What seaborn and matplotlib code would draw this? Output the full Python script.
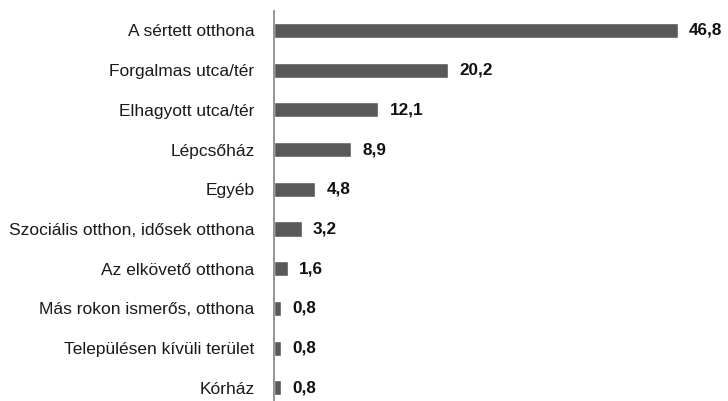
import matplotlib
matplotlib.use("Agg")
import matplotlib.pyplot as plt
import seaborn as sns
import pandas as pd

# data
places = [
    "A sértett otthona",
    "Forgalmas utca/tér",
    "Elhagyott utca/tér",
    "Lépcsőház",
    "Egyéb",
    "Szociális otthon, idősek otthona",
    "Az elkövető otthona",
    "Más rokon ismerős, otthona",
    "Településen kívüli terület",
    "Kórház",
]
shares = [46.8, 20.2, 12.1, 8.9, 4.8, 3.2, 1.6, 0.8, 0.8, 0.8]

df = pd.DataFrame({"place": places, "share": shares})

sns.set_style("white")
plt.rcParams["font.family"] = ["Liberation Sans Narrow", "Liberation Sans", "DejaVu Sans"]

fig = plt.figure(figsize=(7.28, 4.01), dpi=100)
ax = fig.add_axes([274 / 728, -0.0165, (50 * 8.63) / 728, 397 / 401])

sns.barplot(data=df, x="share", y="place", orient="h", color="#595959",
            width=0.38, saturation=1, ax=ax)

ax.set_xlim(0, 50)
ax.set_ylim(9.5, -0.5)

for i, v in enumerate(shares):
    ax.text(v + 1.3, i, f"{v:.1f}".replace(".", ","), va="center", ha="left",
            fontsize=12.3, fontweight="bold", color="#111111")

ax.set_xlabel("")
ax.set_ylabel("")
ax.set_xticks([])
ax.tick_params(axis="y", length=0, pad=14, labelsize=12.5, labelcolor="#1a1a1a")

for side in ["top", "right", "bottom"]:
    ax.spines[side].set_visible(False)
ax.spines["left"].set_color("#8c8c8c")
ax.spines["left"].set_linewidth(1.3)

fig.savefig("out.png", dpi=100)
